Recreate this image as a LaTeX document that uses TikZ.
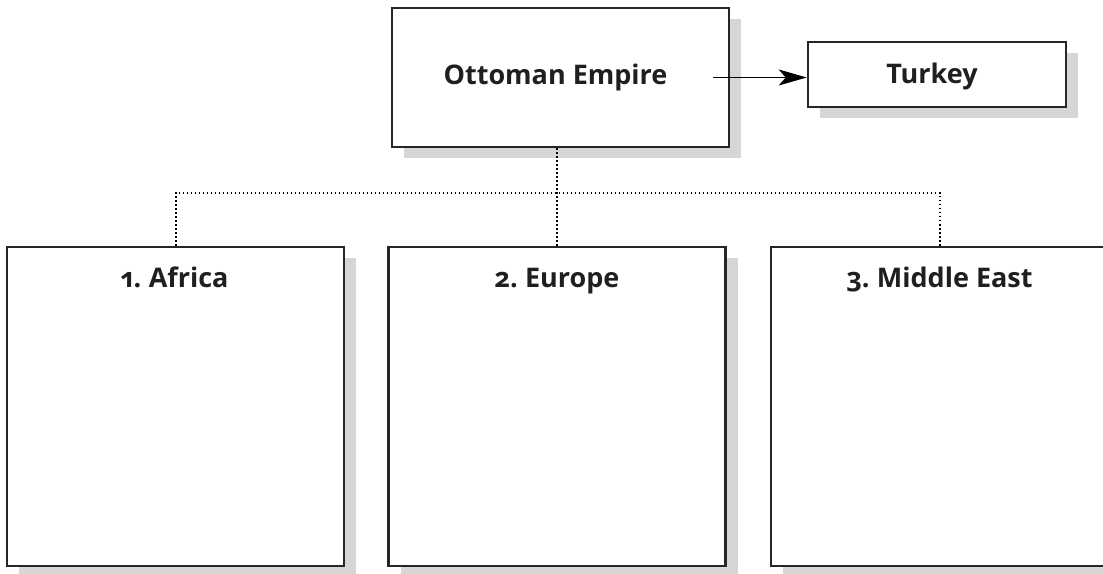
\documentclass[tikz,border=0pt]{standalone}
\usepackage{fontspec}
\setmainfont{Open Sans}[Numbers=OldStyle]
\usetikzlibrary{arrows.meta,shadows}

\tikzset{
  box/.style={draw=black!85, line width=2.6pt, fill=white, inner sep=0pt,
    drop shadow={shadow xshift=12pt, shadow yshift=-11pt, fill=black!16, opacity=1}},
  title/.style={font=\bfseries\fontsize{27}{30}\selectfont, text=black!88, anchor=base, inner sep=0pt},
  link/.style={line width=2pt, dash pattern=on 1.8pt off 2.2pt},
}

\begin{document}
\begin{tikzpicture}[x=1pt, y=-1pt]
            \useasboundingbox (0,0) rectangle (1103,573);
            \node[box, minimum width=337pt, minimum height=139pt] (ottoman) at (560.5,77.5) {};
            \node[title] (ottomanname) at (555.5,84) {Ottoman Empire};
            \node[box, minimum width=258pt, minimum height=65pt] (turkey) at (937,74.5) {};
            \node[title] (turkeyname) at (932,83) {Turkey};
            \node[box, minimum width=337pt, minimum height=319pt] (africa) at (175.5,406.5) {};
            \node[box, minimum width=337pt, minimum height=319pt] (europe) at (557,406.5) {};
            \node[box, minimum width=337pt, minimum height=319pt] (mideast) at (939.5,406.5) {};
            \node[title] (africaname) at (174.5,287) {1.\kern-2pt{} Africa};
            \node[title] (europename) at (557,287) {2.\kern-2pt{} Europe};
            \node[title] (mideastname) at (939.5,287) {3.\kern-2pt{} Middle East};
            \coordinate (start) at (713,77.5);
            \draw[line width=1.7pt, -{Stealth[length=28pt, width=16pt, inset=7pt]}] (start) -- (turkey.west |- start);
            \draw[link] (ottoman.south -| europe.north) -- (europe.north);
            \draw[link] (africa.north) -- ++(0,-53) -| (mideast.north);
\end{tikzpicture}
\end{document}
